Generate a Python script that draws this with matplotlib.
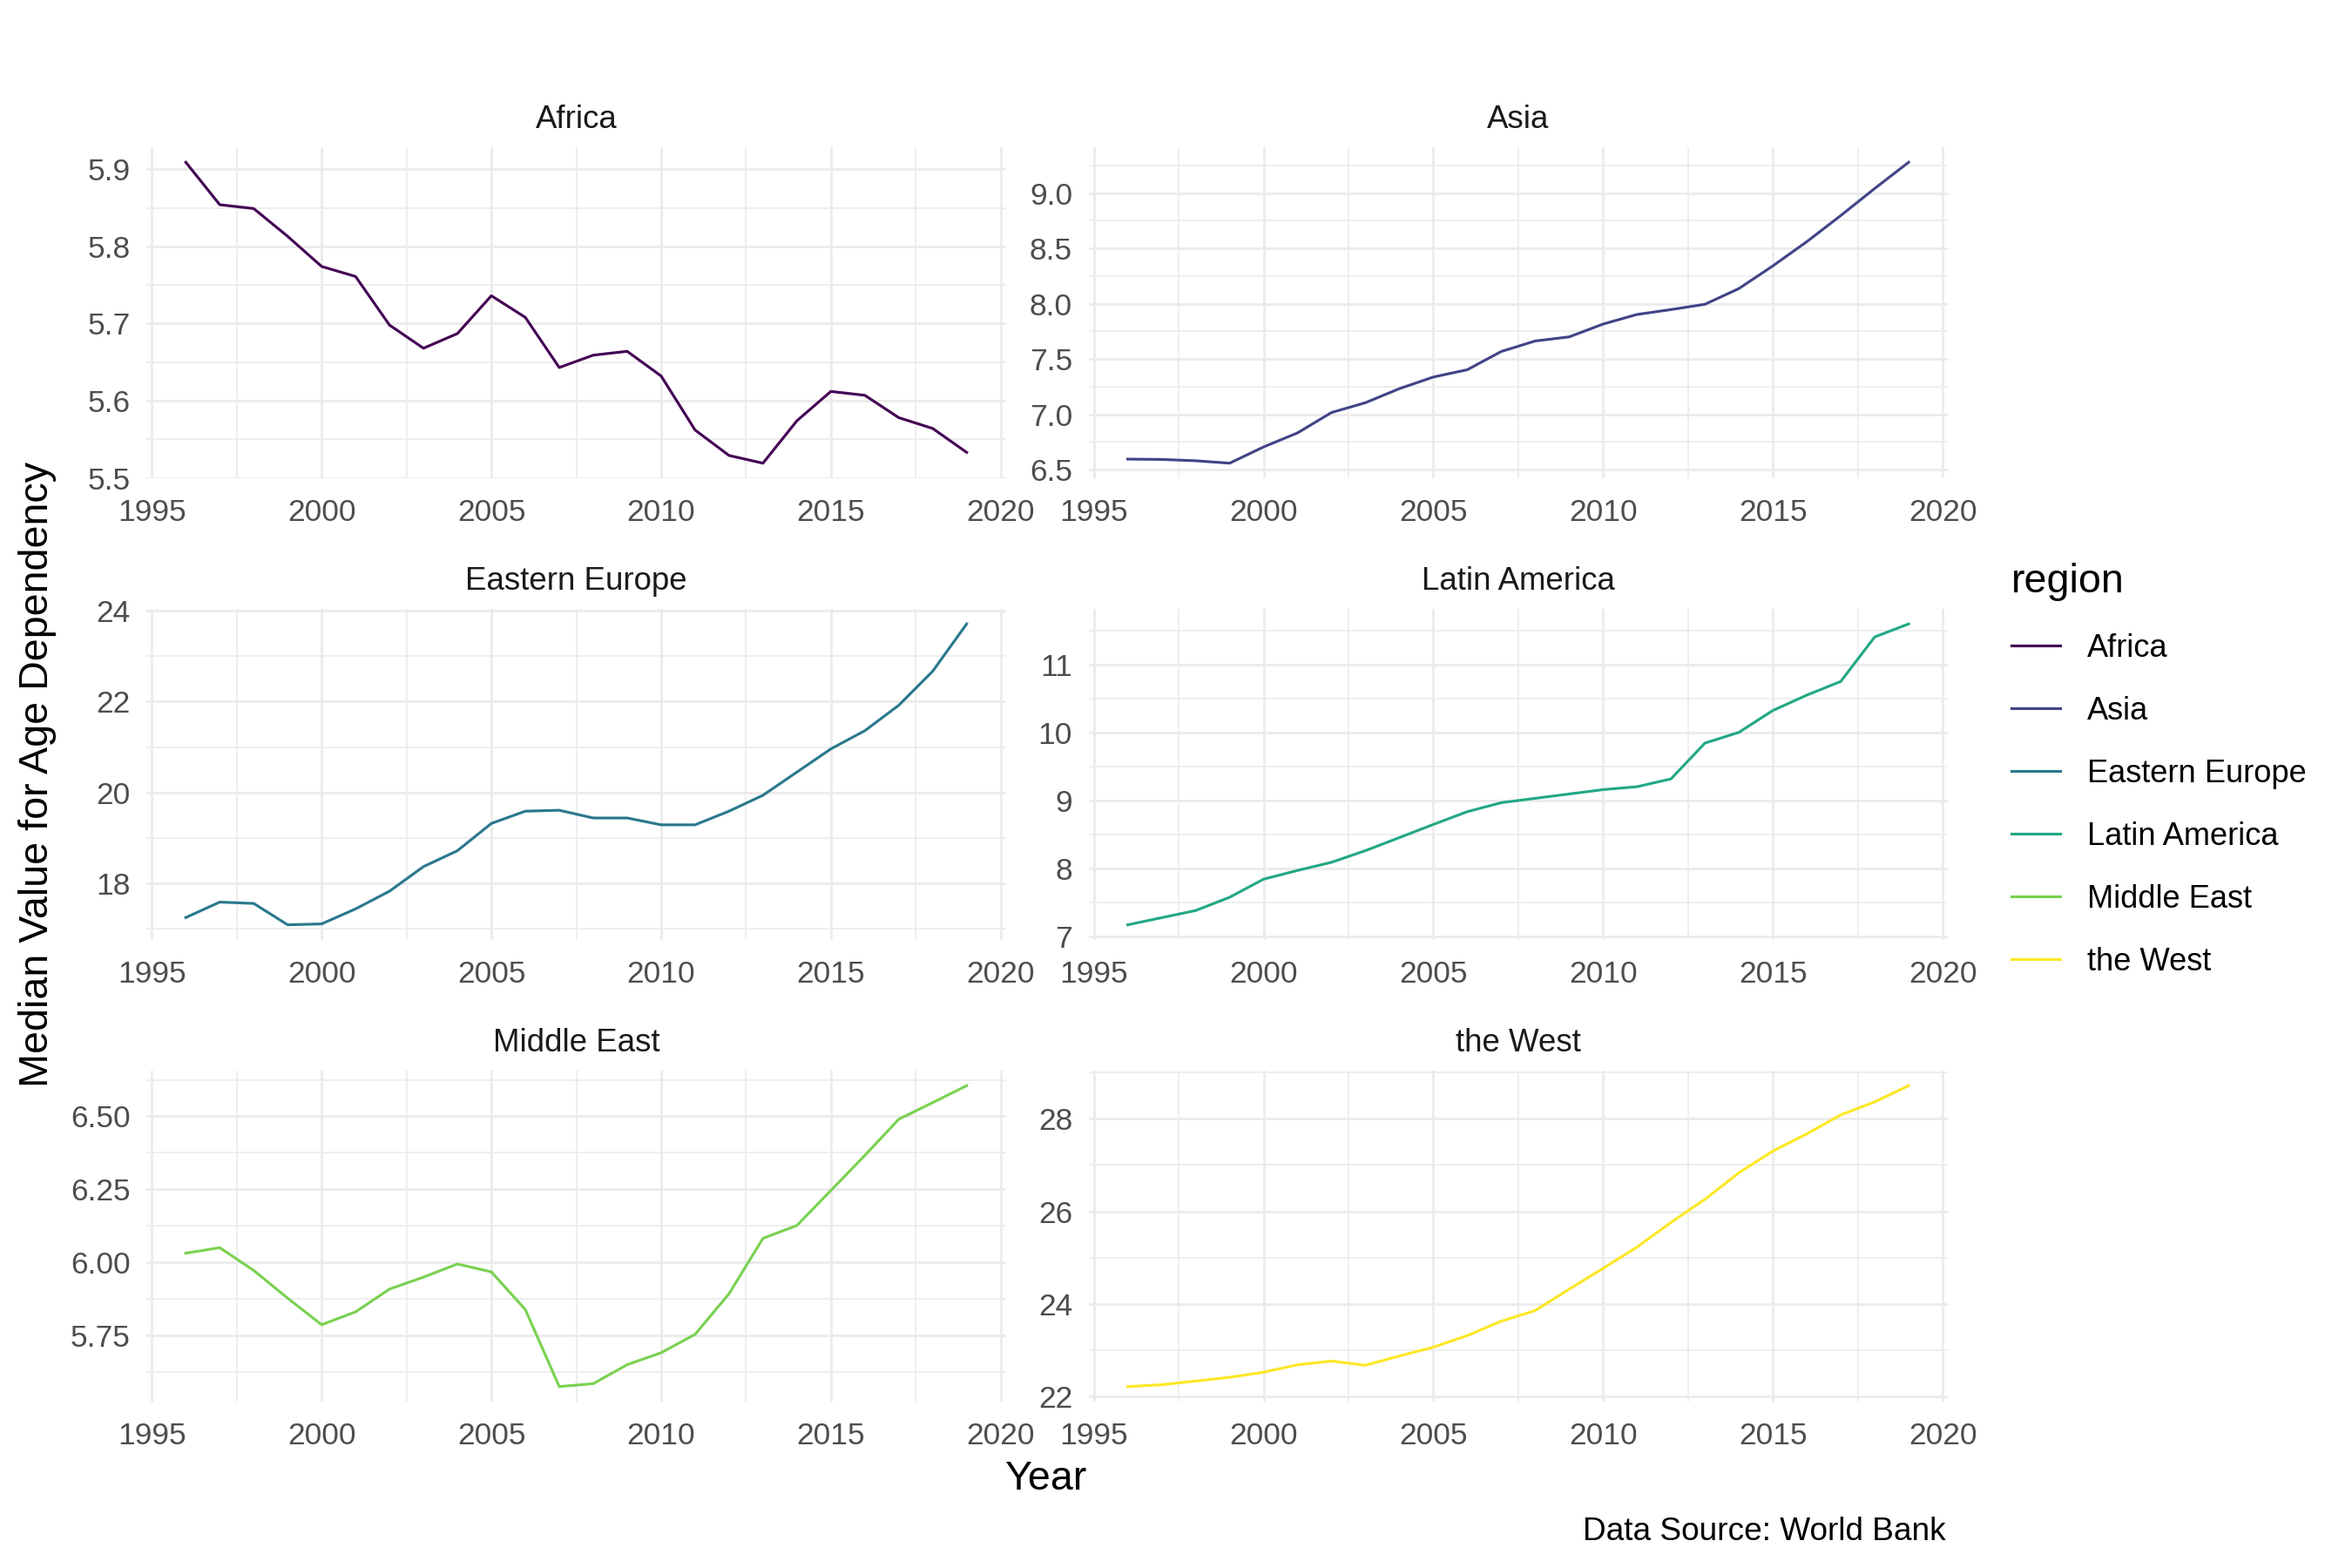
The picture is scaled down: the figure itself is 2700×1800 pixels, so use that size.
import matplotlib
matplotlib.use('Agg')
import matplotlib.pyplot as plt
from matplotlib.ticker import MultipleLocator, FormatStrFormatter

plt.rcParams['font.family'] = ['Liberation Sans', 'DejaVu Sans']

# median age dependency by region, 1996-2019
years = list(range(1996, 2020))

africa = [5.909, 5.854, 5.849, 5.813, 5.774, 5.761, 5.698, 5.668, 5.687, 5.736, 5.708, 5.643,
          5.659, 5.664, 5.632, 5.562, 5.529, 5.519, 5.574, 5.612, 5.607, 5.578, 5.564, 5.533]
asia = [6.595, 6.592, 6.580, 6.558, 6.705, 6.832, 7.016, 7.105, 7.232, 7.337, 7.403, 7.568,
        7.663, 7.700, 7.816, 7.903, 7.947, 7.995, 8.137, 8.342, 8.561, 8.797, 9.042, 9.279]
eastern_europe = [17.25, 17.59, 17.56, 17.09, 17.11, 17.44, 17.83, 18.37, 18.72, 19.32, 19.59, 19.61,
                  19.44, 19.44, 19.29, 19.29, 19.59, 19.94, 20.45, 20.96, 21.36, 21.92, 22.67, 23.71]
latin_america = [7.175, 7.280, 7.385, 7.580, 7.846, 7.974, 8.094, 8.265, 8.457, 8.650, 8.838, 8.970,
                 9.034, 9.098, 9.162, 9.205, 9.320, 9.846, 10.004, 10.325, 10.551, 10.752, 11.406, 11.598]
middle_east = [6.031, 6.050, 5.972, 5.877, 5.786, 5.830, 5.908, 5.949, 5.994, 5.967, 5.838, 5.574,
               5.584, 5.649, 5.690, 5.753, 5.892, 6.082, 6.126, 6.246, 6.366, 6.490, 6.547, 6.605]
the_west = [22.22, 22.26, 22.34, 22.42, 22.53, 22.69, 22.77, 22.68, 22.88, 23.07, 23.32, 23.63,
            23.86, 24.32, 24.77, 25.23, 25.76, 26.26, 26.83, 27.30, 27.67, 28.08, 28.36, 28.71]

regions = ['Africa', 'Asia', 'Eastern Europe', 'Latin America', 'Middle East', 'the West']
series = [africa, asia, eastern_europe, latin_america, middle_east, the_west]
colors = ['#440154', '#414487', '#2A788E', '#22A884', '#7AD151', '#FDE725']
y_steps = [0.1, 0.5, 2, 1, 0.25, 2]
y_formats = ['%.1f', '%.1f', '%d', '%d', '%.2f', '%d']

fig = plt.figure(figsize=(9, 6), dpi=300)

lefts = [0.0624, 0.4629]
bottoms = [0.695, 0.4006, 0.1061]
w, h = 0.3652, 0.2111

handles = []
for i in range(len(regions)):
    ax = fig.add_axes([lefts[i % 2], bottoms[i // 2], w, h])
    line, = ax.plot(years, series[i], color=colors[i], lw=0.75)
    handles.append(line)
    ax.xaxis.set_major_locator(MultipleLocator(5))
    ax.xaxis.set_minor_locator(MultipleLocator(2.5))
    ax.yaxis.set_major_locator(MultipleLocator(y_steps[i]))
    ax.yaxis.set_minor_locator(MultipleLocator(y_steps[i] / 2))
    ax.yaxis.set_major_formatter(FormatStrFormatter(y_formats[i]))
    ax.set_xlim(1994.85, 2020.15)
    ax.grid(which='major', color='#EBEBEB', lw=0.65)
    ax.grid(which='minor', color='#EBEBEB', lw=0.4)
    ax.set_axisbelow(True)
    for s in ax.spines.values():
        s.set_visible(False)
    ax.tick_params(which='both', length=0, labelsize=8.5, labelcolor='#4D4D4D')
    ax.tick_params(axis='y', pad=4.5)
    ax.tick_params(axis='x', pad=5.6)
    ax.text(0.5, 1.057, regions[i], transform=ax.transAxes, ha='center', va='baseline',
            fontsize=8.8, color='#1A1A1A')

fig.text(0.016, 0.506, 'Median Value for Age Dependency', rotation=90, ha='center', va='center',
         fontsize=11.2)
fig.text(0.4448, 0.05, 'Year', ha='center', va='baseline', fontsize=11.2)
fig.text(0.8274, 0.0177, 'Data Source: World Bank', ha='right', va='baseline', fontsize=8.9)

fig.legend(handles, regions, title='region', loc='upper left', bbox_to_anchor=(0.855, 0.641),
           frameon=False, fontsize=8.7, title_fontsize=11.2, alignment='left',
           handlelength=1.56, handletextpad=0.85, labelspacing=1.02, borderpad=0, borderaxespad=0)

fig.savefig('out.png', dpi=300)
